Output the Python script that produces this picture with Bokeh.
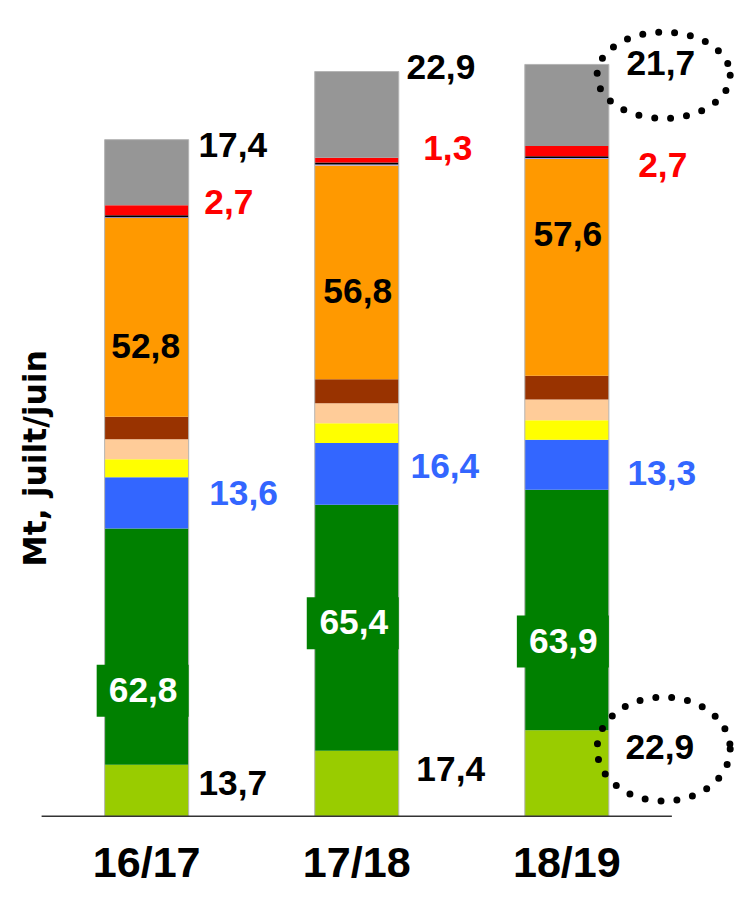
import math
from bokeh.plotting import figure
from bokeh.models import ColumnDataSource, Range1d, Label
from bokeh.embed import file_html
from bokeh.resources import INLINE

# ---------------- data ----------------
categories = ["16/17", "17/18", "18/19"]
light_green = [13.7, 17.4, 22.9]
dark_green = [62.8, 65.4, 63.9]
blue = [13.6, 16.4, 13.3]
yellow = [4.8, 5.3, 5.2]
peach = [5.3, 5.3, 5.5]
brown = [6.0, 6.4, 6.3]
orange = [52.8, 56.8, 57.6]
purple_line = [0.25, 0.25, 0.25]
black_line = [0.5, 0.5, 0.5]
red = [2.7, 1.3, 2.7]
gray = [17.4, 22.9, 21.7]
y_title = "Mt, juilt/juin"

series = ["light_green", "dark_green", "blue", "yellow", "peach", "brown",
          "orange", "purple_line", "black_line", "red", "gray"]
values = dict(light_green=light_green, dark_green=dark_green, blue=blue,
              yellow=yellow, peach=peach, brown=brown, orange=orange,
              purple_line=purple_line, black_line=black_line, red=red, gray=gray)
colors = ["#99CC00", "#008000", "#3366FF", "#FFFF00", "#FFCC99", "#993300",
          "#FF9900", "#9999FF", "#000000", "#FF0000", "#969696"]

# ---------------- layout constants ----------------
W, H = 734, 889
SX = W / 750.0
SY = H / 905.0
PX_X = 214.67 * SX       # pixels per category unit
PX_Y = 3.83 * SY         # pixels per Mt
X0_SCREEN = 42 * SX      # canvas x of category 0 edge
Y0_SCREEN = 830.5 * SY   # canvas y of value 0
BAR_W = 0.4
FS_SCALE = (SX + SY) / 2

x_start = -X0_SCREEN / PX_X
x_end = (W - X0_SCREEN) / PX_X
y_end = Y0_SCREEN / PX_Y
y_start = -(H - Y0_SCREEN) / PX_Y

n = len(categories)
xs = [i + 0.5 for i in range(n)]

data = dict(x=xs)
data.update(values)
source = ColumnDataSource(data)

p = figure(width=W, height=H, output_backend="svg", toolbar_location=None,
           x_axis_type=None, y_axis_type=None,
           x_range=Range1d(x_start, x_end), y_range=Range1d(y_start, y_end),
           min_border=0)
p.outline_line_color = None
p.background_fill_color = "white"
p.border_fill_color = "white"
p.grid.visible = False

p.vbar_stack(series, x="x", width=BAR_W, color=colors, line_color=None,
             source=source)

totals = [sum(values[s][i] for s in series) for i in range(n)]
p.vbar(x=xs, top=totals, bottom=0, width=BAR_W, fill_color=None,
       line_color="#B4B4B4", line_width=1)

# baseline axis
p.segment(x0=[0], y0=[0], x1=[n], y1=[0], line_color="#333333", line_width=1.5)


def seg_mid(key, i):
    below = 0.0
    for s in series:
        if s == key:
            return below + values[s][i] / 2.0
        below += values[s][i]


def fmt(v):
    return f"{v:.1f}".replace(".", ",")


FONT = "Liberation Sans"
FS = f"{36 * FS_SCALE:.1f}px"

label_defs = {
    "gray": dict(color="black", kind="right", dx=[10, 8, 18], dy=[27.4, 48, 43]),
    "red": dict(color="#FF0000", kind="right", dx=[16, 25, 30], dy=[8.4, 12.3, -14.6]),
    "orange": dict(color="black", kind="center", dx=[-1, 1, 1], dy=[-29.5, -19, 33.7]),
    "blue": dict(color="#3366FF", kind="right", dx=[21, 12, 19], dy=[9.8, 8, -8.8]),
    "dark_green": dict(color="white", kind="box", dx=[-3.6, -3, -3.5], dy=[-44, 5.7, -31.2]),
    "light_green": dict(color="black", kind="right", dx=[10, 18, 17], dy=[7.5, 15.3, 26.6]),
}

box_x, box_y = [], []
labels = []
for key, d in label_defs.items():
    for i in range(n):
        y = seg_mid(key, i) + d["dy"][i] * SY / PX_Y
        if d["kind"] == "right":
            x = xs[i] + BAR_W / 2 + d["dx"][i] * SX / PX_X
            align = "left"
        else:
            x = xs[i] + d["dx"][i] * SX / PX_X
            align = "center"
        if d["kind"] == "box":
            box_x.append(xs[i] + BAR_W / 2 - 47 * SX / PX_X)
            box_y.append(y - 1 * SY / PX_Y)
        labels.append(Label(x=x, y=y, text=fmt(values[key][i]), text_font=FONT,
                            text_font_size=FS, text_font_style="bold",
                            text_color=d["color"], text_align=align,
                            text_baseline="middle"))

p.rect(x=box_x, y=box_y, width=94 * SX, height=53 * SY, width_units="screen",
       height_units="screen", fill_color="#008000", line_color=None)

# dotted highlight ellipses around last bar's top and bottom values
last = n - 1
ell_x = [xs[last] + BAR_W / 2 + 56 * SX / PX_X] * 2
ell_y = [totals[last] - 11 * SY / PX_Y,
         seg_mid("light_green", last) + 24.6 * SY / PX_Y]
p.ellipse(x=ell_x, y=ell_y, width=[136 * SX, 136 * SX],
          height=[88 * SY, 106 * SY],
          width_units="screen", height_units="screen", fill_color=None,
          line_color="black", line_width=7, line_dash="0 16", line_cap="round")

for lab in labels:
    p.add_layout(lab)

# category labels
for i, c in enumerate(categories):
    p.add_layout(Label(x=xs[i], y=-46 * SY / PX_Y, text=c, text_font=FONT,
                       text_font_size=f"{44 * FS_SCALE:.1f}px",
                       text_font_style="bold",
                       text_color="black", text_align="center",
                       text_baseline="middle"))

# y title
p.add_layout(Label(x=(35 * SX - X0_SCREEN) / PX_X,
                   y=(Y0_SCREEN - 466 * SY) / PX_Y,
                   text=y_title, angle=math.pi / 2, text_font="DejaVu Sans",
                   text_font_size=f"{32 * FS_SCALE:.1f}px", text_font_style="bold",
                   text_color="black", text_align="center",
                   text_baseline="alphabetic"))

open("out.html", "w").write(file_html(p, INLINE))
